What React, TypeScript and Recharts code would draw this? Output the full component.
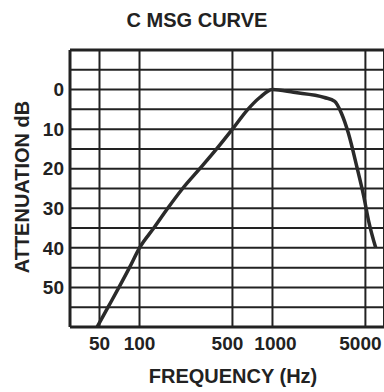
import React from "react";
import { CartesianGrid, Line, LineChart, ReferenceLine, XAxis, YAxis } from "recharts";

// C-message weighting (frequency in Hz, attenuation in dB)
const frequencies = [48, 58, 70, 84, 100, 128, 163, 211, 284, 380, 500, 653, 802, 1000, 1440, 2460, 2940, 3300, 3720, 4310, 4860, 5310, 5980];
const attenuation = [60, 55, 50, 45, 40, 35, 30, 25, 20, 15, 10, 5, 2, 0, 0.7, 2, 3, 6, 11, 19.5, 27, 33.5, 40];

const xTicks = [50, 100, 500, 1000, 5000];
const yTicks = [-10, -5, 0, 5, 10, 15, 20, 25, 30, 35, 40, 45, 50, 55, 60];
const yLabels = [0, 10, 20, 30, 40, 50];

const data = frequencies.map((f, i) => ({ f, db: attenuation[i] }));

const ink = "#222";
const font = "'Liberation Sans', Arial, sans-serif";
const textStyle: React.CSSProperties = {
  position: "absolute",
  fontFamily: font,
  fontWeight: 700,
  fontSize: 20,
  color: ink,
  whiteSpace: "nowrap",
  transform: "translate(-50%, -50%)",
};

// small nudges so the crowded labels don't run into each other
const labelShift: Record<number, number> = { 500: -5, 1000: 3, 5000: -5 };

function FreqTick(props: any) {
  const { x, y, payload } = props;
  return (
    <text
      x={x + (labelShift[payload.value] || 0)}
      y={y}
      dy="0.71em"
      textAnchor="middle"
      fill={ink}
      fontSize={19}
      fontWeight={700}
      fontFamily={font}
    >
      {payload.value}
    </text>
  );
}

export default function App() {
  return (
    <div style={{ position: "absolute", left: 0, top: 0, width: 384, height: 392, background: "#fff", overflow: "hidden" }}>
      <LineChart width={384} height={392} data={data} margin={{ top: 50, right: 0, left: 0, bottom: 35 }}>
        <CartesianGrid stroke={ink} strokeWidth={2} />
        <XAxis
          dataKey="f"
          type="number"
          scale="log"
          domain={[30, 6900]}
          ticks={xTicks}
          allowDataOverflow
          height={30}
          tickSize={0}
          tickMargin={10}
          axisLine={{ stroke: ink, strokeWidth: 3 }}
          tick={<FreqTick />}
        />
        <YAxis
          type="number"
          reversed
          domain={[-10, 60]}
          ticks={yTicks}
          interval={0}
          width={70}
          tickSize={0}
          tickMargin={6}
          axisLine={{ stroke: ink, strokeWidth: 3 }}
          tickFormatter={(v: number) => (yLabels.includes(v) ? String(v) : "")}
          tick={{ fill: ink, fontSize: 19, fontWeight: 700, fontFamily: font }}
        />
        <ReferenceLine y={-10} stroke={ink} strokeWidth={3} />
        <Line
          type="monotone"
          dataKey="db"
          stroke="#2a2a2a"
          strokeWidth={3.5}
          dot={false}
          isAnimationActive={false}
        />
      </LineChart>
      <div style={{ ...textStyle, left: 197, top: 20 }}>C MSG CURVE</div>
      <div style={{ ...textStyle, left: 233, top: 376 }}>FREQUENCY (Hz)</div>
      <div style={{ ...textStyle, left: 22, top: 187, transform: "translate(-50%, -50%) rotate(-90deg)" }}>
        ATTENUATION dB
      </div>
    </div>
  );
}
